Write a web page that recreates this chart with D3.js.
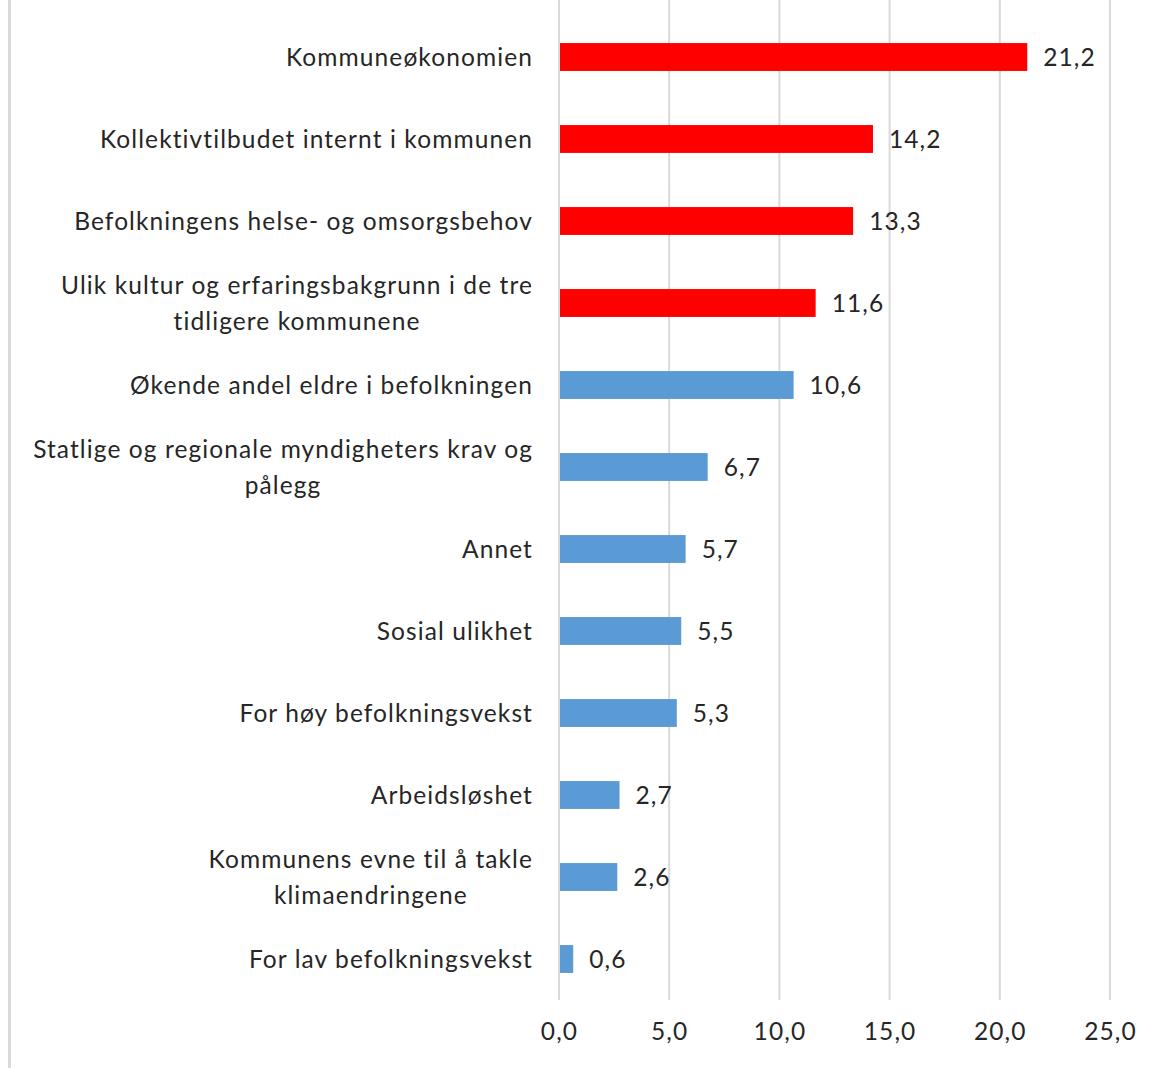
<!DOCTYPE html>
<html>
<head>
<meta charset="utf-8">
<script src="https://cdn.jsdelivr.net/npm/d3@7"></script>
<style>
  body { margin: 0; background: #fff; }
  svg { display: block; }
</style>
</head>
<body>
<svg id="chart" width="1157" height="1068"></svg>
<script>
var categories = [
    ['Kommuneøkonomien'],
    ['Kollektivtilbudet internt i kommunen'],
    ['Befolkningens helse- og omsorgsbehov'],
    ['Ulik kultur og erfaringsbakgrunn i de tre', 'tidligere kommunene'],
    ['Økende andel eldre i befolkningen'],
    ['Statlige og regionale myndigheters krav og', 'pålegg'],
    ['Annet'],
    ['Sosial ulikhet'],
    ['For høy befolkningsvekst'],
    ['Arbeidsløshet'],
    ['Kommunens evne til å takle', 'klimaendringene'],
    ['For lav befolkningsvekst']
]
var values = [21.2, 14.2, 13.3, 11.6, 10.6, 6.7, 5.7, 5.5, 5.3, 2.7, 2.6, 0.6]
var ticks = [0, 5, 10, 15, 20, 25]
var highlighted = 4   // first four bars drawn in red

var svg = d3.select('#chart'),
    font = 'Lato, "Open Sans", sans-serif',
    fontSize = 24.5,
    spacing = '1.1px',
    textColor = '#262626',
    gridColor = '#d9d9d9'

var x = d3.scaleLinear().domain([0, 25]).range([559, 1110])
var y = d3.scaleBand()
    .domain(d3.range(values.length))
    .range([16, 1000])
    .paddingInner(0.66)
    .paddingOuter(0.33)

var fmt = function(v){ return d3.format('.1f')(v).replace('.', ',') }

// left border
svg.append('line')
    .attr('x1', 9.5).attr('x2', 9.5)
    .attr('y1', 0).attr('y2', 1068)
    .attr('stroke', gridColor)
    .attr('stroke-width', 3)

// gridlines
svg.append('g')
    .selectAll('line')
    .data(ticks)
    .join('line')
    .attr('x1', d => x(d)).attr('x2', d => x(d))
    .attr('y1', 0).attr('y2', 1000)
    .attr('stroke', gridColor)
    .attr('stroke-width', 2)

// x axis tick labels
var xAxis = d3.axisBottom(x).tickValues(ticks).tickFormat(fmt).tickSize(0).tickPadding(0)
var gx = svg.append('g')
    .attr('transform', 'translate(0,1023)')
    .call(xAxis)
gx.select('.domain').remove()
gx.selectAll('text')
    .attr('font-family', font)
    .attr('font-size', fontSize)
    .attr('letter-spacing', spacing)
    .attr('fill', textColor)

// bars
svg.append('g')
    .selectAll('rect')
    .data(values)
    .join('rect')
    .attr('x', x(0) + 1)
    .attr('y', (d, i) => y(i))
    .attr('width', d => x(d) - x(0))
    .attr('height', y.bandwidth())
    .attr('fill', (d, i) => i < highlighted ? '#ff0000' : '#5b9bd5')

// value labels
svg.append('g')
    .selectAll('text')
    .data(values)
    .join('text')
    .attr('x', d => x(d) + 17)
    .attr('y', (d, i) => y(i) + y.bandwidth() / 2)
    .attr('dy', '0.36em')
    .attr('font-family', font)
    .attr('font-size', fontSize)
    .attr('letter-spacing', spacing)
    .attr('fill', textColor)
    .text(fmt)

// category labels (multi-line blocks right aligned, lines centred)
var labelRight = 533, lineH = 36
categories.forEach(function(lines, i){
    var cy = y(i) + y.bandwidth() / 2
    var g = svg.append('g')
    var t = g.append('text')
        .attr('font-family', font)
        .attr('font-size', fontSize)
        .attr('letter-spacing', spacing)
        .attr('fill', textColor)
        .attr('text-anchor', 'middle')
    lines.forEach(function(s, j){
        t.append('tspan')
            .attr('x', 0)
            .attr('y', cy + (j - (lines.length - 1) / 2) * lineH)
            .attr('dy', '0.36em')
            .text(s)
    })
    var w = t.node().getBBox().width
    g.attr('transform', 'translate(' + (labelRight - w / 2) + ',0)')
})
</script>
</body>
</html>
